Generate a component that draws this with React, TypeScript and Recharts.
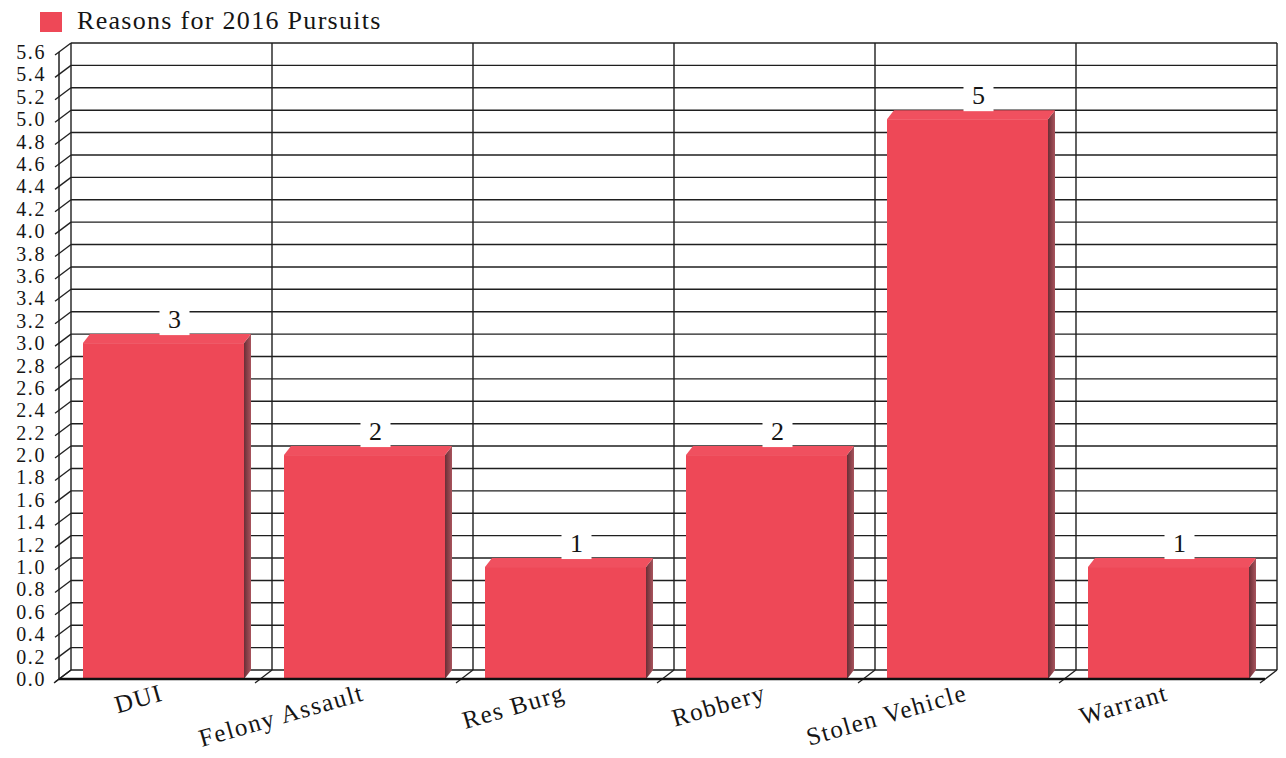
import React from 'react';
import { BarChart, Bar, XAxis, YAxis, CartesianGrid, LabelList } from 'recharts';

// Pursuit reasons and their counts
const categories = ['DUI', 'Felony Assault', 'Res Burg', 'Robbery', 'Stolen Vehicle', 'Warrant'];
const pursuits = [3, 2, 1, 2, 5, 1];
const yTicks = [0, 0.2, 0.4, 0.6, 0.8, 1.0, 1.2, 1.4, 1.6, 1.8, 2.0, 2.2, 2.4, 2.6, 2.8, 3.0, 3.2, 3.4, 3.6, 3.8, 4.0, 4.2, 4.4, 4.6, 4.8, 5.0, 5.2, 5.4, 5.6];
const SERIES_NAME = 'Reasons for 2016 Pursuits';

const data = categories.map((name, i) => ({ name, count: pursuits[i] }));

const W = 1286;
const H = 758;
const FONT = '"Liberation Serif", "Times New Roman", Times, serif';
const INK = '#151515';
const GRID = '#1f1f1f';
const RED = '#EE4857';
const RED_TOP = '#F0505F';

// 3D depth of the back wall and of the bars
const WALL_DX = 12;
const WALL_DY = -9;
const BAR_SHIFT = 4;
const BAR_DX = 7;
const BAR_DY = -9;

const Bar3D = (props: any) => {
  const { x, y, width, height } = props;
  if (!height || height <= 0) return null;
  const x0 = x + BAR_SHIFT;
  const x1 = x0 + width;
  const yb = y + height;
  return (
    <g>
      <polygon
        points={`${x1},${y} ${x1 + BAR_DX},${y + BAR_DY} ${x1 + BAR_DX},${yb + BAR_DY} ${x1},${yb}`}
        fill="url(#barSide)"
      />
      <polygon
        points={`${x0},${y} ${x0 + BAR_DX},${y + BAR_DY} ${x1 + BAR_DX},${y + BAR_DY} ${x1},${y}`}
        fill={RED_TOP}
      />
      <rect x={x0} y={y} width={width} height={height} fill={RED} />
    </g>
  );
};

const ValueLabel = (props: any) => {
  const { x, y, width, value } = props;
  const cx = x + width / 2 + BAR_SHIFT + 11;
  const cy = y - 24;
  return (
    <g>
      <rect x={cx - 15} y={cy - 16} width={30} height={32} fill="#ffffff" />
      <text
        x={cx}
        y={cy}
        textAnchor="middle"
        dominantBaseline="central"
        fontFamily={FONT}
        fontSize={26}
        fill={INK}
      >
        {value}
      </text>
    </g>
  );
};

const CategoryTick = (props: any) => {
  const { x, y, payload } = props;
  const tx = x + 5;
  const ty = y + 21;
  return (
    <text
      x={tx}
      y={ty}
      transform={`rotate(-16, ${tx}, ${ty})`}
      textAnchor="end"
      fontFamily={FONT}
      fontSize={25}
      letterSpacing={1.5}
      fill={INK}
    >
      {payload.value}
    </text>
  );
};

const ValueTick = (props: any) => {
  const { x, y, payload } = props;
  return (
    <text
      x={x - 13}
      y={y}
      textAnchor="end"
      dominantBaseline="central"
      fontFamily={FONT}
      fontSize={20}
      letterSpacing={1.6}
      fill={INK}
    >
      {Number(payload.value).toFixed(1)}
    </text>
  );
};

// Back-wall horizontal line plus its slanted tick across the left wall
const wallHorizontal = (p: any) => (
  <g key={`h-${p.index}`}>
    <line x1={p.x1 + WALL_DX} y1={p.y1 + WALL_DY} x2={p.x2 + WALL_DX} y2={p.y2 + WALL_DY} stroke={GRID} strokeWidth={1.4} />
    <line x1={p.x1 - 4} y1={p.y1 + 3} x2={p.x1 + WALL_DX} y2={p.y1 + WALL_DY} stroke={GRID} strokeWidth={1.3} />
  </g>
);

// Back-wall vertical line plus its slanted tick across the floor
const wallVertical = (p: any) => (
  <g key={`v-${p.index}`}>
    <line x1={p.x1 + WALL_DX} y1={p.y1 + WALL_DY} x2={p.x2 + WALL_DX} y2={p.y2 + WALL_DY} stroke={GRID} strokeWidth={1.4} />
    <line x1={p.x2 - 5} y1={p.y2 + 4} x2={p.x2 + WALL_DX} y2={p.y2 + WALL_DY} stroke={GRID} strokeWidth={1.3} />
  </g>
);

const bandEdges = ({ offset }: any) => {
  const n = categories.length;
  const edges = categories.map((_, i) => offset.left + (i * offset.width) / n);
  edges.push(offset.left + offset.width);
  return edges;
};

export default function App() {
  return (
    <div style={{ position: 'absolute', left: 0, top: 0, width: W, height: H, background: '#fff' }}>
      <svg width={420} height={42} style={{ position: 'absolute', left: 0, top: 0 }}>
        <rect x={40} y={12} width={22} height={20} fill={RED} />
        <text x={77} y={29} fontFamily={FONT} fontSize={26} letterSpacing={1.3} fill={INK}>
          {SERIES_NAME}
        </text>
      </svg>
      <div style={{ position: 'absolute', left: 0, top: 0 }}>
        <BarChart
          width={W}
          height={H}
          data={data}
          margin={{ top: 52, right: 21, bottom: 0, left: 0 }}
        >
          <defs>
            <linearGradient id="barSide" x1="0" y1="0" x2="1" y2="0">
              <stop offset="0%" stopColor="#6a2e36" />
              <stop offset="100%" stopColor="#a9545d" />
            </linearGradient>
          </defs>
          <CartesianGrid
            stroke={GRID}
            horizontal={wallHorizontal}
            vertical={wallVertical}
            verticalCoordinatesGenerator={bandEdges}
          />
          <XAxis
            dataKey="name"
            height={79}
            tickLine={false}
            tickSize={0}
            tickMargin={0}
            interval={0}
            axisLine={{ stroke: '#111', strokeWidth: 2.6 }}
            tick={<CategoryTick />}
          />
          <YAxis
            type="number"
            width={59}
            domain={[0, 5.6]}
            ticks={yTicks}
            interval={0}
            tickLine={false}
            tickSize={0}
            tickMargin={0}
            axisLine={{ stroke: GRID, strokeWidth: 1.5 }}
            tick={<ValueTick />}
          />
          <Bar
            dataKey="count"
            name={SERIES_NAME}
            barSize={161}
            shape={<Bar3D />}
            isAnimationActive={false}
          >
            <LabelList dataKey="count" content={<ValueLabel />} />
          </Bar>
        </BarChart>
      </div>
    </div>
  );
}
